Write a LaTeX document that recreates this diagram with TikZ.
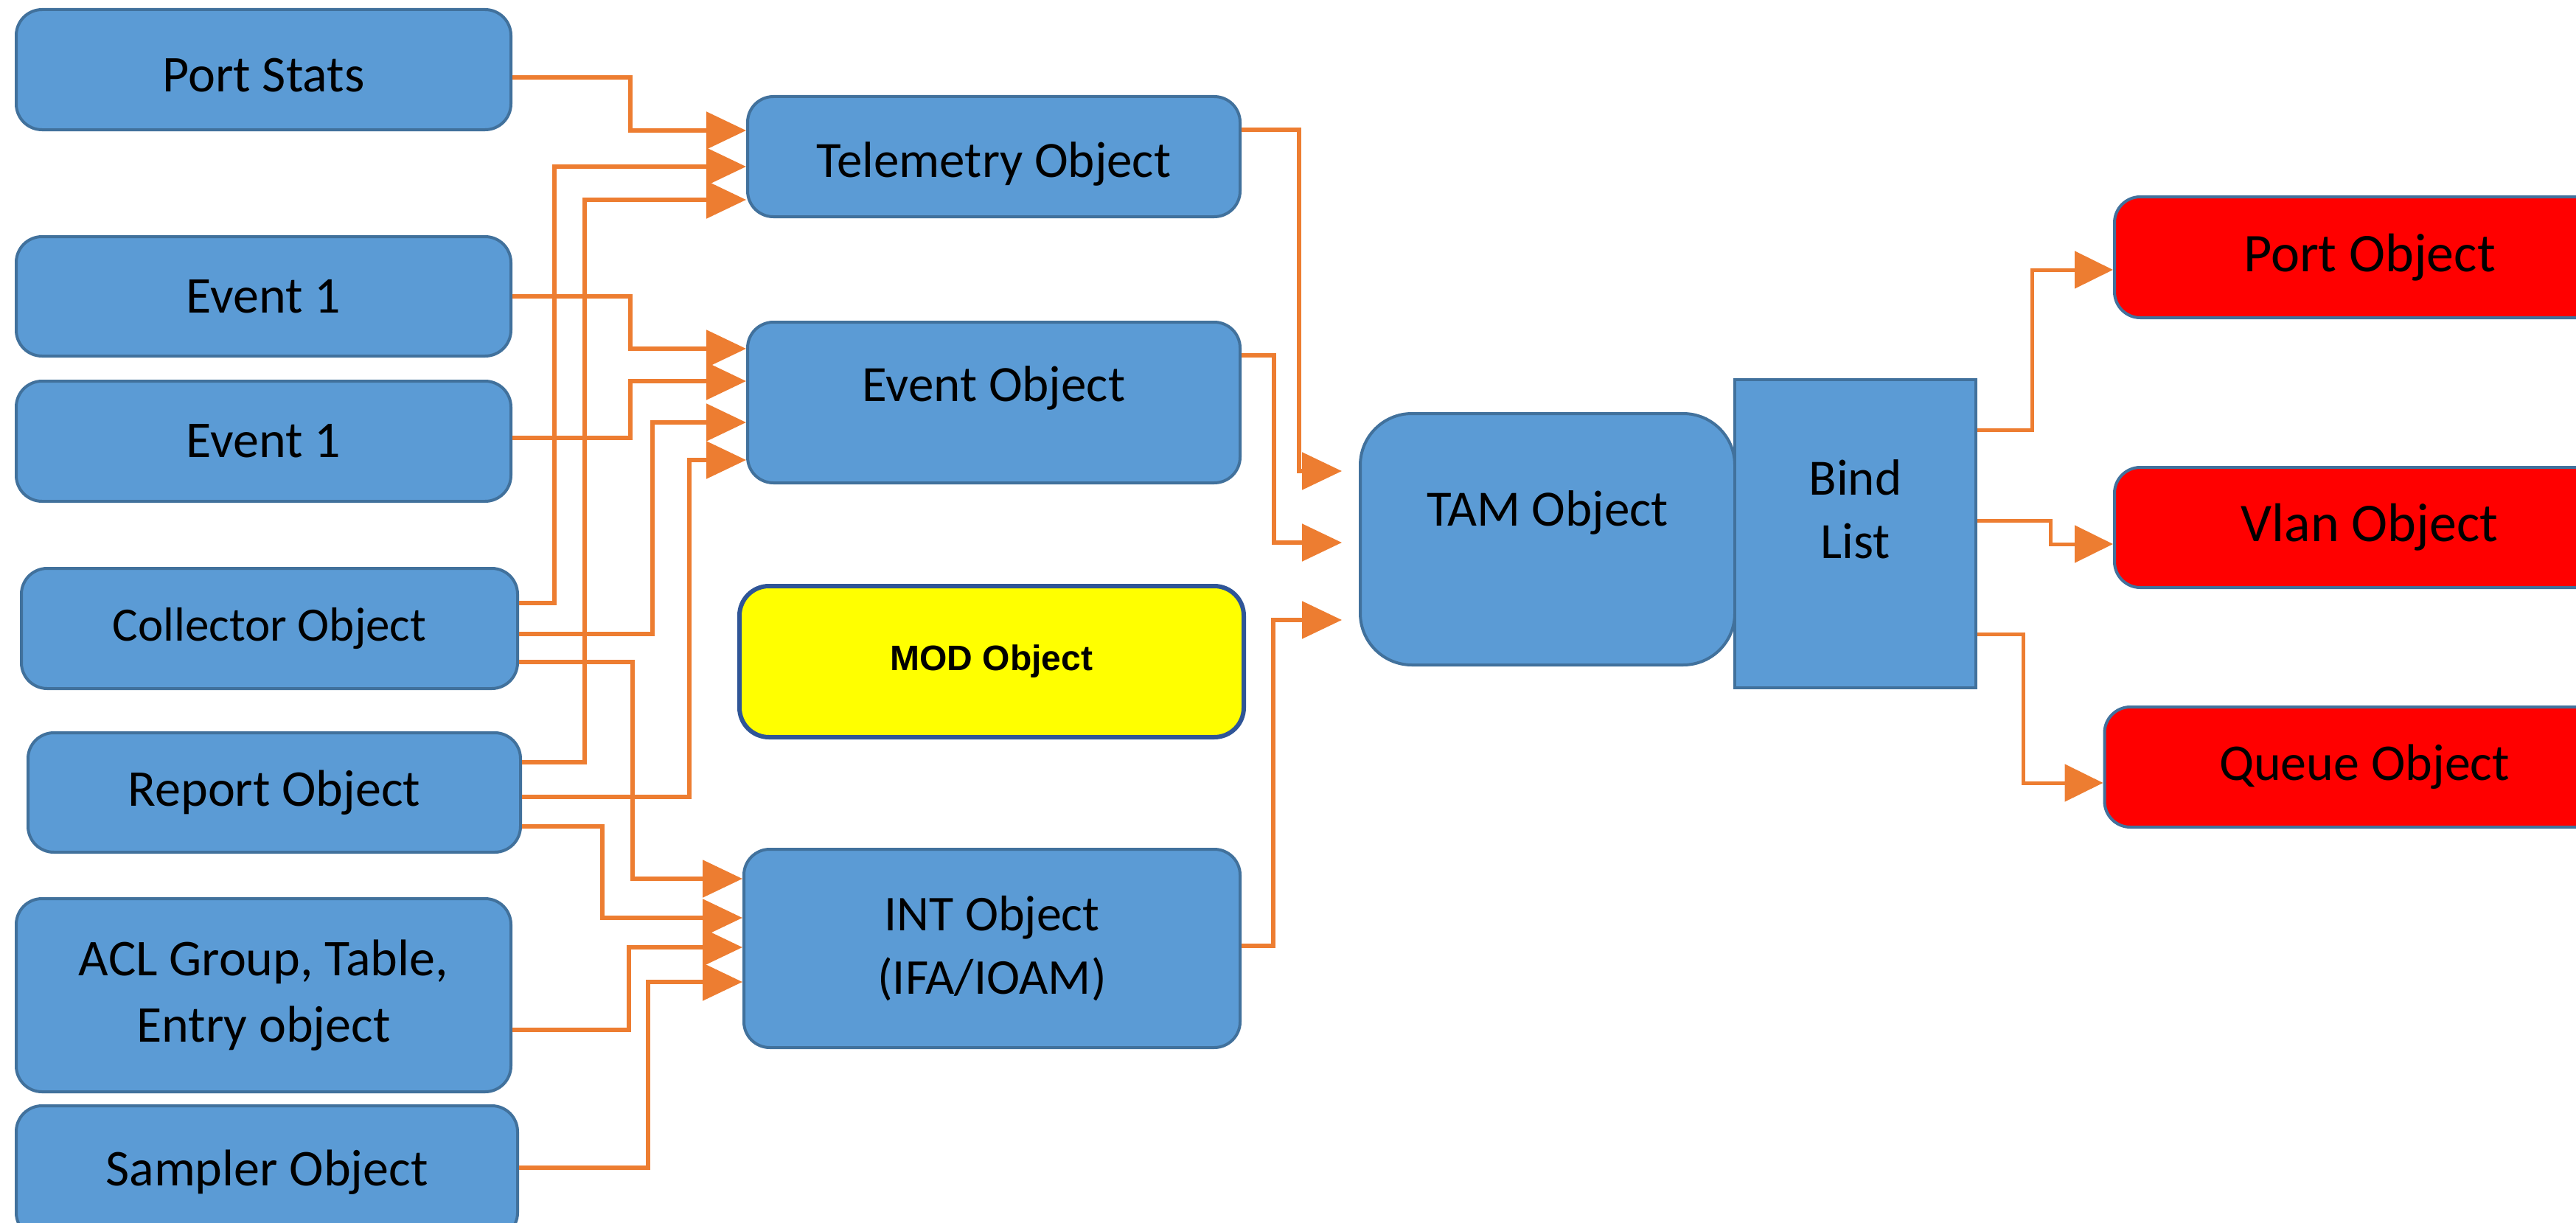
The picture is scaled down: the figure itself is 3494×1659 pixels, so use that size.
\documentclass[tikz,border=0pt]{standalone}
\usepackage{fontspec}
\setmainfont{Carlito}
\newfontfamily\arialfont{Liberation Sans}
\usetikzlibrary{arrows.meta}
\definecolor{boxblue}{HTML}{5B9BD5}
\definecolor{boxedge}{HTML}{41719C}
\definecolor{conorange}{HTML}{ED7D31}
\definecolor{modedge}{HTML}{2F5597}
\definecolor{modfill}{HTML}{FFFF00}
\definecolor{redfill}{HTML}{FF0000}
\begin{document}
\begin{tikzpicture}[x=1pt,y=-1pt,
  base/.style={draw=boxedge, line width=4pt, rectangle, inner sep=0pt,
    font=\fontsize{70}{88}\selectfont, align=center, text=black},
  bluebox/.style={base, fill=boxblue, rounded corners=35pt},
  redbox/.style={base, fill=redfill, rounded corners=35pt, font=\fontsize{74}{88}\selectfont},
  modbox/.style={base, draw=modedge, line width=6pt, fill=modfill, rounded corners=40pt,
    font=\arialfont\bfseries\fontsize{48}{56}\selectfont},
  lbl/.style={font=\fontsize{69}{86}\selectfont, align=center, inner sep=0pt, text=black},
  conn/.style={draw=conorange, line width=5.5pt, -{Triangle[length=54pt,width=50pt]}},
  connr/.style={draw=conorange, line width=5pt, -{Triangle[length=52pt,width=50pt]}}
]
\fill[white] (0,0) rectangle (3494,1659);
\clip (0,0) rectangle (3494,1659);

% left column
\node[bluebox, minimum width=671pt, minimum height=163pt,
  label={[lbl, font=\fontsize{70}{88}\selectfont, yshift=-8pt]center:Port Stats}] (ps) at (357.5,94.5) {};
\node[bluebox, minimum width=671pt, minimum height=162pt] (e1) at (357.5,402) {Event 1};
\node[bluebox, minimum width=671pt, minimum height=163pt] (e2) at (357.5,598.5) {Event 1};
\node[bluebox, minimum width=673pt, minimum height=163pt, font=\fontsize{65}{80}\selectfont] (col) at (365.5,852.5) {Collector Object};
\node[bluebox, minimum width=668pt, minimum height=162pt] (rep) at (372,1075) {Report Object};
\node[bluebox, minimum width=671pt, minimum height=262pt, font=\fontsize{70}{90}\selectfont] (acl) at (357.5,1350) {ACL Group, Table,\\Entry object};
\node[bluebox, minimum width=680pt, minimum height=180pt] (samp) at (362,1590) {Sampler Object};

% middle column
\node[bluebox, minimum width=668pt, minimum height=163pt,
  label={[lbl, yshift=-10pt]center:Telemetry Object}] (tel) at (1348,212.5) {};
\node[bluebox, minimum width=668pt, minimum height=218pt,
  label={[lbl, yshift=20pt]center:Event Object}] (evo) at (1348,546) {};
\node[modbox, minimum width=684pt, minimum height=205pt] (mod) at (1345,897.5) {MOD Object};
\node[bluebox, minimum width=673pt, minimum height=269pt, font=\fontsize{68}{86}\selectfont] (int) at (1345.5,1286.5) {INT Object\\(IFA/IOAM)};

% TAM and bind list
\node[bluebox, rounded corners=70pt, minimum width=508pt, minimum height=341pt,
  label={[lbl, yshift=36pt]center:TAM Object}] (tam) at (2099,731.5) {};
\node[base, fill=boxblue, minimum width=327pt, minimum height=418pt,
  label={[lbl, yshift=33pt]center:{Bind\\List}}] (bind) at (2516.5,724) {};

% right column
\node[redbox, minimum width=692pt, minimum height=164pt] (port) at (3214,349) {Port Object};
\node[redbox, minimum width=692pt, minimum height=163pt] (vlan) at (3214,715.5) {Vlan Object};
\node[redbox, minimum width=705pt, minimum height=163pt, font=\fontsize{70}{88}\selectfont] (queue) at (3207,1040.5) {Queue Object};

% connectors into Telemetry Object
\draw[conn] (ps.east |- 0,105) -- (855,105) |- (tel.west |- 0,177);
\draw[conn] (col.east |- 0,818) -- (752,818) |- (tel.west |- 0,226);
\draw[conn] (rep.east |- 0,1034) -- (793,1034) |- (tel.west |- 0,271);
% into Event Object
\draw[conn] (e1.east |- 0,402) -- (855,402) |- (evo.west |- 0,473);
\draw[conn] (e2.east |- 0,594) -- (855,594) |- (evo.west |- 0,517);
\draw[conn] (col.east |- 0,860) -- (885,860) |- (evo.west |- 0,573);
\draw[conn] (rep.east |- 0,1081) -- (935,1081) |- (evo.west |- 0,624);
% into INT Object
\draw[conn] (col.east |- 0,898) -- (858,898) |- (int.west |- 0,1192);
\draw[conn] (rep.east |- 0,1121) -- (817,1121) |- (int.west |- 0,1245);
\draw[conn] (acl.east |- 0,1397) -- (853,1397) |- (int.west |- 0,1285);
\draw[conn] (samp.east |- 0,1584) -- (879,1584) |- (int.west |- 0,1332);
% into TAM Object
\draw[conn, shorten >=23pt] (tel.east |- 0,176) -- (1762,176) |- (tam.west |- 0,639);
\draw[conn, shorten >=23pt] (evo.east |- 0,482) -- (1728,482) |- (tam.west |- 0,736);
\draw[conn, shorten >=23pt] (int.east |- 0,1283) -- (1727,1283) |- (tam.west |- 0,841);
% from Bind List
\draw[connr] (bind.east |- 0,583) -- (2756,583) |- (port.west |- 0,366);
\draw[connr] (bind.east |- 0,706) -- (2781,706) |- (vlan.west |- 0,738);
\draw[connr] (bind.east |- 0,860) -- (2744,860) |- (queue.west |- 0,1062);
\end{tikzpicture}
\end{document}
